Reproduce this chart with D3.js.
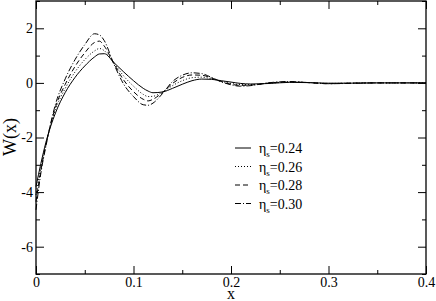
<!DOCTYPE html>
<html>
<head>
<meta charset="utf-8">
<script src="https://cdn.jsdelivr.net/npm/d3@7"></script>
<style>
  body { margin: 0; background: #fff; }
  svg { display: block; }
</style>
</head>
<body>
<svg id="chart" width="436" height="301"></svg>
<script>
// values
var xs = [0, 0.005, 0.01, 0.02, 0.03, 0.04, 0.05, 0.06, 0.065, 0.07, 0.08, 0.09, 0.10, 0.11, 0.115, 0.12, 0.13, 0.14, 0.15, 0.16, 0.17, 0.18, 0.19, 0.20, 0.21, 0.22, 0.24, 0.26, 0.28, 0.30, 0.32, 0.35, 0.40];
var eta24 = [-3.8, -2.95, -2.2, -1.1, -0.35, 0.2, 0.62, 0.95, 1.06, 1.07, 0.74, 0.4, 0.08, -0.2, -0.3, -0.36, -0.33, -0.2, -0.05, 0.08, 0.14, 0.13, 0.08, 0.03, -0.02, -0.04, -0.02, 0.02, 0.01, -0.01, -0.01, 0, 0];
var eta26 = [-4.1, -3.1, -2.25, -0.98, -0.2, 0.4, 0.85, 1.17, 1.26, 1.18, 0.72, 0.25, -0.12, -0.42, -0.5, -0.49, -0.33, -0.1, 0.08, 0.19, 0.21, 0.15, 0.06, -0.02, -0.06, -0.06, -0.01, 0.03, 0.01, -0.02, -0.01, 0, 0];
var eta28 = [-4.35, -3.2, -2.3, -0.88, -0.05, 0.6, 1.1, 1.48, 1.53, 1.35, 0.7, 0.1, -0.32, -0.6, -0.66, -0.6, -0.34, -0.02, 0.2, 0.29, 0.28, 0.18, 0.05, -0.05, -0.09, -0.08, 0, 0.04, 0.01, -0.03, -0.01, 0, 0];
var eta30 = [-4.65, -3.3, -2.35, -0.78, 0.15, 0.85, 1.4, 1.8, 1.76, 1.55, 0.68, -0.05, -0.5, -0.8, -0.82, -0.74, -0.38, 0.05, 0.28, 0.37, 0.34, 0.2, 0.04, -0.07, -0.12, -0.1, 0.01, 0.05, 0.01, -0.03, -0.02, 0, 0];

var seriesNames = ["0.24", "0.26", "0.28", "0.30"];
var seriesValues = [eta24, eta26, eta28, eta30];
var dashes = [null, "1,2", "5,3", "6,2,1,2"];

var xMajor = [0, 0.1, 0.2, 0.3, 0.4];
var xMajorLabels = ["0", "0.1", "0.2", "0.3", "0.4"];
var xMinor = [0.05, 0.15, 0.25, 0.35];
var yMajor = [-6, -4, -2, 0, 2];
var yMajorLabels = ["-6", "-4", "-2", "0", "2"];
var yMinor = [-7, -5, -3, -1, 1, 3];

var svg = d3.select("#chart");
var x = d3.scaleLinear().domain([0, 0.4]).range([36, 426]);
var y = d3.scaleLinear().domain([-7, 3]).range([274, 1]);

function addAxis(axis, tx, ty, ticks, size, labels) {
    var g = svg.append("g")
        .attr("transform", "translate(" + tx + "," + ty + ")")
        .call(axis.tickValues(ticks).tickSizeInner(size).tickSizeOuter(0)
            .tickPadding(4)
            .tickFormat(function(d, i) { return labels ? labels[i] : ""; }))
        .attr("font-family", "Liberation Serif")
        .attr("font-size", 14);
    g.select(".domain").remove();
    g.selectAll("line").attr("stroke", "#000").attr("stroke-width", 1);
    g.selectAll("text").attr("fill", "#000");
    return g;
}

// inward ticks on all four sides
addAxis(d3.axisBottom(x), 0, 274, xMajor, -8, xMajorLabels).selectAll("text").attr("dy", "0.62em");
addAxis(d3.axisBottom(x), 0, 274, xMinor, -4);
addAxis(d3.axisTop(x), 0, 1, xMajor, -8);
addAxis(d3.axisTop(x), 0, 1, xMinor, -4);
addAxis(d3.axisLeft(y), 36, 0, yMajor, -8, yMajorLabels).selectAll("text").attr("dx", "1");
addAxis(d3.axisLeft(y), 36, 0, yMinor, -4);
addAxis(d3.axisRight(y), 426, 0, yMajor, -8);
addAxis(d3.axisRight(y), 426, 0, yMinor, -4);

svg.append("rect")
    .attr("x", 36).attr("y", 1)
    .attr("width", 390).attr("height", 273)
    .attr("fill", "none").attr("stroke", "#000").attr("stroke-width", 1.3);

var line = d3.line()
    .x(function(d) { return x(d[0]); })
    .y(function(d) { return y(d[1]); })
    .curve(d3.curveMonotoneX);

seriesValues.forEach(function(vals, i) {
    svg.append("path")
        .datum(xs.map(function(xv, j) { return [xv, vals[j]]; }))
        .attr("fill", "none")
        .attr("stroke", "#000")
        .attr("stroke-width", 1)
        .attr("stroke-dasharray", dashes[i])
        .attr("d", line);
});

// legend
var legend = svg.append("g")
    .attr("font-family", "Liberation Serif")
    .attr("font-size", 14);
seriesNames.forEach(function(name, i) {
    var ly = 148 + i * 18.5;
    legend.append("line")
        .attr("x1", 235).attr("x2", 251)
        .attr("y1", ly).attr("y2", ly)
        .attr("stroke", "#000").attr("stroke-width", 1)
        .attr("stroke-dasharray", dashes[i]);
    var t = legend.append("text")
        .attr("x", 259).attr("y", ly + 5);
    t.append("tspan").text("η");
    t.append("tspan").attr("font-size", 9).attr("dy", 4).text("s");
    t.append("tspan").attr("dy", -4).text("=" + name);
});

// axis titles
svg.append("text")
    .attr("x", 231).attr("y", 299)
    .attr("text-anchor", "middle")
    .attr("font-family", "Liberation Serif")
    .attr("font-size", 16)
    .text("x");
svg.append("text")
    .attr("transform", "translate(16,137) rotate(-90)")
    .attr("text-anchor", "middle")
    .attr("font-family", "Liberation Serif")
    .attr("font-size", 18)
    .text("W(x)");
</script>
</body>
</html>
